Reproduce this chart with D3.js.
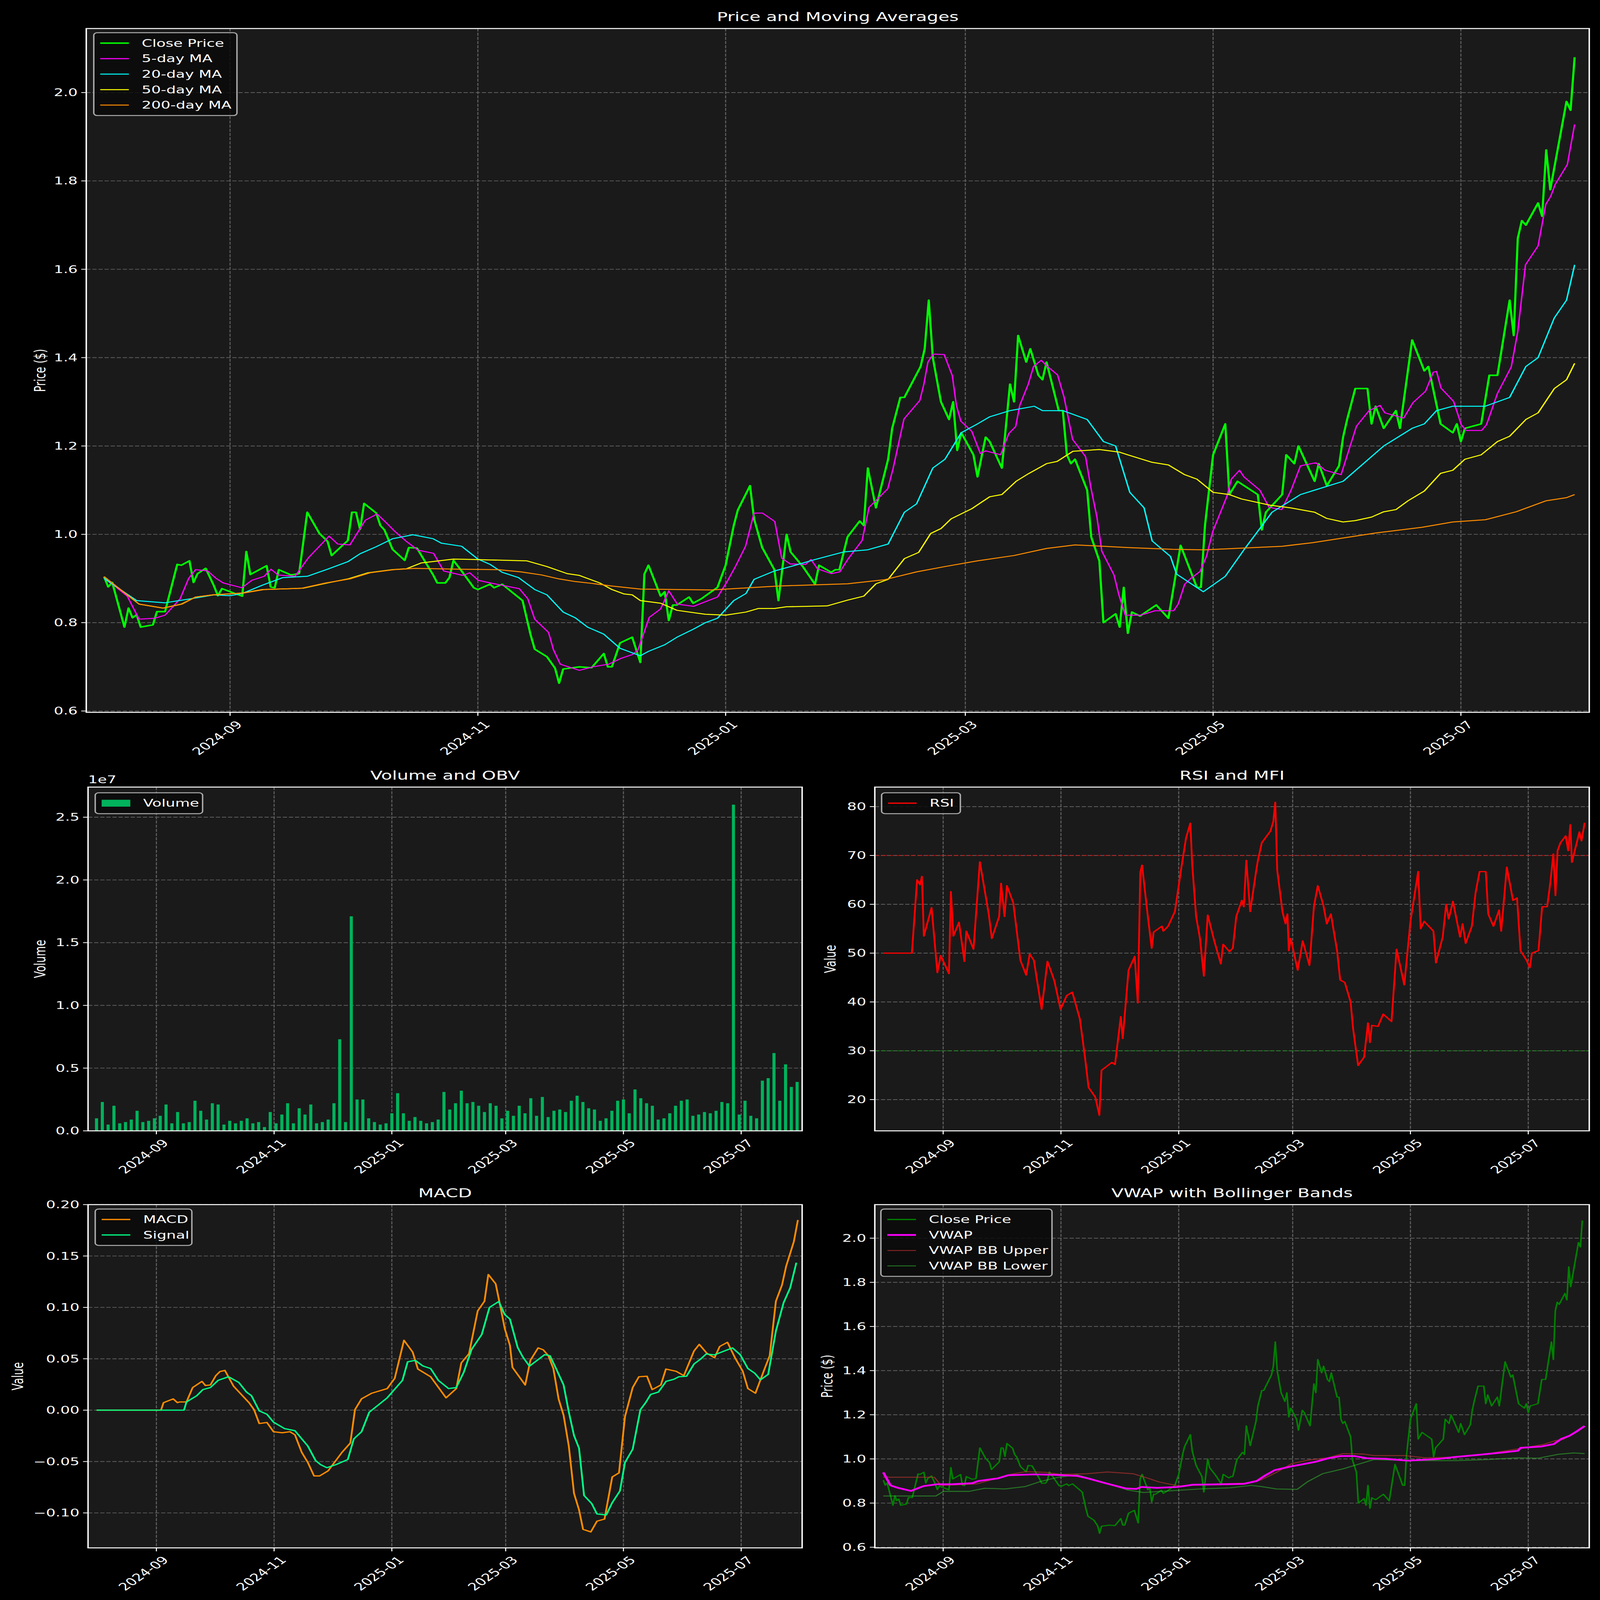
<!DOCTYPE html>
<html><head><meta charset="utf-8">
<script src="https://cdn.jsdelivr.net/npm/d3@7"></script>
<style>html,body{margin:0;padding:0;background:#000;overflow:hidden}</style>
</head><body>
<script>
const tickDates = ["2024-09-01","2024-11-01","2025-01-01","2025-03-01","2025-05-01","2025-07-01"];
const tickLabels = ["2024-09","2024-11","2025-01","2025-03","2025-05","2025-07"];
const closePrice = [[0,.904],[1,.881],[2,.891],[5,.79],[6,.833],[7,.811],[8,.818],[9,.79],[12,.795],[13,.825],[15,.825],[18,.932],[19,.93],[21,.94],[22,.891],[23,.911],[25,.923],[27,.884],[28,.861],[29,.877],[34,.86],[35,.961],[36,.909],[40,.929],[41,.881],[42,.879],[43,.92],[46,.908],[48,.911],[50,1.05],[53,1.002],[55,.984],[56,.952],[60,.986],[61,1.05],[62,1.05],[63,1.011],[64,1.07],[67,1.048],[68,1.02],[69,1.01],[71,.966],[74,.941],[75,.97],[77,.969],[81,.908],[82,.89],[84,.89],[85,.902],[86,.941],[88,.917],[91,.879],[92,.875],[95,.887],[96,.879],[98,.887],[103,.85],[105,.772],[106,.74],[109,.723],[111,.697],[112,.663],[113,.695],[117,.70],[120,.698],[123,.73],[124,.70],[125,.70],[127,.754],[130,.767],[132,.71],[133,.91],[134,.93],[137,.86],[138,.87],[139,.805],[140,.84],[141,.84],[144,.858],[145,.844],[147,.854],[151,.88],[153,.93],[155,1.02],[156,1.055],[159,1.11],[160,1.035],[162,.97],[165,.92],[166,.85],[168,1.0],[169,.96],[172,.927],[175,.887],[176,.93],[179,.914],[180,.92],[181,.92],[183,.994],[186,1.03],[187,1.02],[188,1.15],[190,1.06],[193,1.17],[194,1.24],[196,1.31],[197,1.31],[201,1.38],[202,1.42],[203,1.53],[204,1.40],[206,1.30],[208,1.26],[209,1.30],[210,1.19],[211,1.23],[214,1.18],[215,1.13],[217,1.22],[218,1.21],[221,1.15],[223,1.34],[224,1.30],[225,1.45],[227,1.39],[228,1.42],[230,1.36],[231,1.35],[232,1.39],[235,1.28],[236,1.28],[237,1.18],[238,1.16],[239,1.17],[242,1.10],[243,.994],[245,.94],[246,.80],[249,.82],[250,.79],[251,.88],[252,.776],[253,.824],[255,.815],[259,.84],[262,.81],[265,.975],[269,.88],[270,.88],[271,1.02],[273,1.18],[276,1.25],[277,1.09],[279,1.12],[284,1.09],[285,1.01],[286,1.05],[290,1.09],[291,1.18],[293,1.16],[294,1.20],[298,1.12],[299,1.16],[301,1.11],[304,1.155],[305,1.22],[306,1.26],[308,1.33],[311,1.33],[312,1.25],[313,1.29],[315,1.24],[318,1.28],[319,1.24],[322,1.44],[325,1.37],[326,1.38],[329,1.25],[332,1.23],[333,1.25],[334,1.21],[335,1.24],[339,1.25],[341,1.36],[343,1.36],[346,1.53],[347,1.45],[348,1.67],[349,1.71],[350,1.70],[353,1.75],[354,1.72],[355,1.87],[356,1.78],[360,1.98],[361,1.96],[362,2.08]];
const ma5 = [[0,.90],[3,.88],[5.7,.86],[8.6,.808],[12.4,.81],[15,.817],[18.7,.854],[20.8,.90],[22.5,.92],[25.5,.917],[27.6,.90],[29.3,.89],[33.9,.879],[36.4,.896],[39.4,.905],[41.1,.921],[42.8,.908],[47,.905],[50.3,.947],[55.4,.996],[57.5,.978],[60.5,.976],[64.3,1.032],[67.2,1.046],[69.7,1.024],[71.4,1.008],[74.4,.984],[77.3,.964],[81.1,.957],[83.6,.917],[88.3,.907],[90,.913],[92.1,.896],[95,.89],[102.2,.877],[104.3,.854],[106,.808],[109.4,.778],[110.6,.739],[112.3,.706],[117,.692],[120.3,.70],[124.2,.706],[127.2,.719],[130.1,.728],[131.4,.738],[134.2,.812],[137,.831],[139,.872],[141.1,.842],[145.1,.837],[151,.858],[153.3,.892],[155.4,.927],[157.9,.973],[160,1.048],[162.1,1.048],[165.1,1.029],[166.8,.946],[168.9,.933],[172.7,.932],[174,.943],[175.6,.922],[179,.911],[181.1,.915],[183.2,.945],[186.6,.986],[188.3,1.061],[192.9,1.103],[194.2,1.148],[196.9,1.261],[200.8,1.303],[201.8,1.34],[202.8,1.39],[204.1,1.408],[206.8,1.407],[208.8,1.359],[209.8,1.292],[210.9,1.256],[213.6,1.233],[215.7,1.183],[217,1.189],[220.7,1.18],[222.7,1.228],[224.4,1.244],[225.4,1.292],[227.5,1.34],[228.8,1.38],[230.7,1.394],[232.1,1.381],[234.7,1.361],[236.3,1.311],[238.4,1.215],[241.6,1.176],[242.9,1.106],[244.4,1.039],[245.6,.962],[248.6,.908],[249.8,.863],[251.4,.817],[255.2,.817],[258.7,.827],[263.3,.827],[264.4,.842],[266,.887],[267.5,.9],[269.8,.916],[271.4,.951],[272.9,1.006],[276.4,1.086],[277.5,1.125],[279.5,1.145],[280.6,1.13],[284.5,1.10],[286.8,1.061],[289.9,1.056],[292.2,1.10],[294.5,1.155],[298.3,1.162],[300.6,1.145],[304.5,1.135],[308.3,1.245],[311.4,1.28],[314.1,1.292],[315.3,1.275],[319.9,1.263],[322.2,1.298],[325.3,1.324],[327.2,1.367],[328,1.369],[329.1,1.331],[332.2,1.301],[334.1,1.248],[335.3,1.235],[339.1,1.235],[340.3,1.248],[343,1.319],[346.4,1.379],[348,1.459],[349.9,1.61],[353,1.653],[354.9,1.747],[356.1,1.765],[357.2,1.792],[360.2,1.837],[362,1.928]];
const ma20 = [[0,.90],[8,.85],[15,.845],[22,.855],[27,.863],[31,.861],[34,.866],[39,.885],[44,.902],[50,.905],[55,.921],[60,.938],[63,.956],[67,.972],[71,.99],[76,.999],[81,.99],[83,.98],[88,.973],[92,.944],[95,.932],[98,.914],[102,.902],[106,.875],[109,.863],[113,.824],[116,.811],[119,.79],[123,.774],[127,.742],[132,.725],[134,.735],[138,.75],[141,.767],[145,.785],[148,.80],[151,.81],[155,.85],[158,.866],[160,.898],[165,.917],[169,.927],[175,.943],[182,.96],[188,.965],[193,.978],[197,1.05],[200,1.069],[204,1.15],[207,1.17],[211,1.23],[215,1.25],[218,1.266],[223,1.28],[229,1.29],[231,1.28],[236,1.28],[242,1.26],[246,1.21],[249,1.20],[252.5,1.095],[256,1.06],[258,.985],[262.5,.95],[264,.91],[270.6,.87],[276,.905],[280.6,.965],[287.5,1.05],[294.5,1.09],[298,1.10],[305,1.12],[315,1.20],[322,1.24],[325,1.25],[328,1.28],[332,1.29],[340,1.29],[346,1.31],[350,1.38],[353,1.40],[357,1.49],[360,1.53],[362,1.61]];
const ma50 = [[0,.904],[4,.875],[8.6,.842],[14.5,.833],[19,.842],[22.5,.858],[27,.863],[34,.867],[39,.875],[49,.878],[55,.89],[60,.899],[65,.913],[71,.92],[74.4,.922],[78,.935],[86,.944],[91,.943],[95,.942],[104,.94],[109,.927],[114,.911],[117,.907],[122,.89],[125,.875],[128,.865],[130,.863],[132,.85],[137,.844],[141,.828],[148,.819],[153,.817],[158,.824],[161,.832],[165,.832],[168,.836],[178,.838],[183,.851],[187,.86],[190,.888],[193,.898],[197,.945],[200.5,.959],[203.5,1.002],[206,1.013],[208.5,1.035],[213.6,1.058],[218,1.085],[221,1.09],[224.5,1.12],[227.5,1.137],[232,1.16],[234.6,1.165],[238.5,1.188],[245,1.192],[250,1.186],[252,1.18],[258,1.163],[262,1.157],[266,1.135],[269,1.125],[273,1.095],[277,1.09],[280,1.08],[287,1.066],[292,1.06],[298,1.05],[301,1.036],[305,1.028],[308,1.031],[312,1.039],[315,1.051],[318,1.056],[321,1.076],[325,1.098],[329,1.138],[332,1.145],[335,1.17],[339,1.18],[343,1.21],[346,1.222],[350,1.26],[353,1.275],[357,1.33],[360,1.35],[362,1.387]];
const ma200 = [[0,.904],[4,.875],[8.6,.842],[14.5,.833],[19.2,.842],[22.5,.858],[26.7,.863],[34.3,.867],[39.4,.875],[48.7,.878],[54.6,.89],[60.5,.899],[65.5,.913],[71.4,.92],[76.5,.923],[88,.921],[97,.92],[102.6,.915],[107.7,.908],[112,.899],[116,.893],[120,.889],[125,.883],[132,.876],[149.5,.874],[166,.883],[183,.888],[192,.897],[200,.915],[207,.927],[215,.94],[224,.952],[232,.968],[239,.976],[246,.973],[252,.97],[263,.966],[271,.965],[290,.973],[297.5,.981],[313,1.003],[324.5,1.016],[332,1.028],[340,1.033],[347.6,1.051],[355,1.076],[360,1.083],[362,1.09]];
const volumeM = [1.0,2.3,0.5,2.0,0.6,0.7,0.9,1.6,0.7,0.8, 1.0,1.2,2.1,0.6,1.5,0.6,0.7,2.4,1.6,0.9, 2.2,2.1,0.5,0.8,0.6,0.8,1.0,0.6,0.7,0.3, 1.5,0.6,1.3,2.2,0.6,1.8,1.3,2.1,0.6,0.7, 0.9,2.2,7.3,0.7,17.1,2.5,2.5,1.0,0.7,0.5, 0.6,1.4,3.0,1.4,0.8,1.1,0.8,0.6,0.7,0.9, 3.1,1.7,2.2,3.2,2.2,2.3,2.0,1.5,2.2,2.0, 1.0,1.6,1.2,2.0,1.4,2.6,1.2,2.7,1.1,1.6, 1.7,1.5,2.4,2.8,2.3,1.8,1.7,0.8,1.0,1.6, 2.4,2.5,1.4,3.3,2.6,2.2,2.0,0.9,1.0,1.4, 2.0,2.4,2.5,1.2,1.3,1.5,1.4,1.6,2.3,2.2, 26.0,1.3,2.4,1.2,1.0,4.0,4.2,6.2,2.4,5.3,3.5,3.9];
const rsi = [[0,50],[14.8,50],[17.5,65],[19,64],[20,65.7],[21,53.5],[25,59.3],[28,46],[29.7,49.5],[34,45.8],[35,62.6],[36.3,53.5],[39.2,56.3],[42,48.3],[43,54.5],[46.7,50.8],[50,68.7],[54.6,58],[56.2,53],[60,57.5],[61,64.3],[62.8,57.5],[64,63.8],[67.3,60.3],[71,48.5],[74,45.5],[75.8,49.8],[78,48.5],[82,38.5],[85,48.3],[88.6,44.3],[91.8,38.5],[95,41.3],[97.9,42],[101.8,36.5],[104.5,28.5],[106.3,22.5],[109.8,20.5],[111.9,16.8],[113,26],[118.3,27.6],[120,27.2],[123,37],[124,32.5],[127,46.5],[130.2,49.3],[131.8,39.8],[133.1,66.6],[134,68],[137,57.5],[139,51],[140,54.3],[144.3,55.5],[145,54.5],[147.5,55.5],[151,58.5],[154.4,67.6],[156.8,73.6],[159,76.6],[160,68],[162,57.5],[164,53],[166,45.3],[168,57.8],[171.4,52.5],[174.8,47.8],[176,51.8],[179.3,50.3],[181,51],[182.8,57.5],[185.7,60.8],[186.7,59.5],[188,69],[190,58.5],[193,66.6],[194,69],[196,72.6],[200.5,75],[202,77],[203,80.9],[204,67],[206.7,58.5],[208.3,56],[209.3,58],[210,50.5],[211,53],[214.6,46.5],[217.2,52.5],[220.7,47.5],[223,59.5],[225,63.8],[227.9,59.8],[229.7,56],[231.8,58],[235,50.5],[236.6,44.5],[239,44],[242,40],[243.3,34.5],[245.9,27],[249,28.7],[251,35.7],[252,31.7],[253,35.2],[256.2,35],[258.9,37.5],[263.2,36],[265.8,50.8],[269.8,43.5],[273,56.5],[277,66.7],[278.3,55],[280.1,56.5],[284.9,54.5],[286.2,48],[289.7,53.3],[291.5,60],[292.8,57],[295,60.6],[298.7,53.3],[300,56],[301.6,52],[304.8,55.5],[306.7,62.3],[308.8,66.7],[312,66.7],[313.3,58],[316,55.5],[318.9,58.8],[320,54.5],[322.9,67.6],[326.1,60.8],[328.2,61.3],[330,50.5],[333.2,48.5],[334.8,47],[335.9,50],[339.3,50.5],[341.2,59.5],[343.8,59.5],[345.4,64.3],[347,70.3],[348.1,61.8],[349.2,71],[350.7,72.6],[353.4,74],[354.7,71],[355.8,76.3],[356.6,68.6],[360.5,74.8],[361.6,73],[363.2,76.7]];
const macd = [[0,0],[33.4,0],[34.7,.0073],[39.7,.011],[41.9,.0073],[43,.008],[46.6,.008],[49.8,.022],[54.6,.028],[56.4,.024],[59,.0245],[61.8,.0336],[63.9,.0375],[66.5,.0387],[71,.0233],[79,.0073],[81.6,.0005],[84.3,-.013],[88.3,-.012],[91.7,-.021],[96.2,-.022],[100.2,-.021],[102.8,-.024],[106.3,-.041],[109.5,-.051],[112.7,-.064],[115.6,-.064],[120,-.059],[127.2,-.041],[131.5,-.032],[133.9,.0005],[137.3,.011],[142.6,.0165],[150.6,.021],[154.5,.031],[159.3,.068],[163.8,.0565],[166.5,.040],[173.1,.0325],[181.1,.012],[186.4,.021],[189,.046],[193,.055],[197.5,.0966],[201,.106],[203,.132],[206.8,.123],[209.7,.0966],[211.5,.0794],[214.2,.063],[215.5,.0416],[222.1,.0245],[224.8,.0485],[228.8,.0606],[231.4,.0588],[234.1,.053],[236.7,.0405],[239.4,.011],[242,-.005],[244.7,-.035],[247.4,-.081],[250,-.097],[252.1,-.116],[256.1,-.1185],[259.3,-.108],[263.2,-.106],[267.2,-.065],[270.7,-.061],[273.8,-.0064],[277.8,.022],[281,.0325],[285.2,.033],[287.9,.02],[292.4,.0245],[295,.040],[300.3,.0378],[304.3,.0336],[309.6,.0577],[312.3,.064],[316.2,.0554],[320.2,.051],[322.9,.062],[326.9,.066],[330.8,.051],[334.8,.038],[337.5,.021],[341.4,.0165],[346.2,.0405],[348.8,.053],[352,.106],[355.2,.122],[357.3,.14],[361.3,.164],[363.4,.185]];
const signal = [[0,0],[45.3,0],[46.6,.008],[51.9,.014],[55.1,.020],[59,.022],[63,.029],[68.4,.0325],[73.7,.027],[77.7,.0176],[80.3,.014],[84.3,-.0007],[88.3,-.004],[91.7,-.0117],[97.5,-.018],[102.8,-.02],[106.8,-.029],[109.5,-.035],[113.5,-.049],[116.1,-.053],[119.3,-.056],[124.1,-.053],[130.2,-.048],[133.3,-.028],[137.3,-.021],[141.3,-.002],[145.3,.004],[150.6,.012],[153.2,.0176],[158.5,.029],[161.2,.047],[165.1,.0485],[169.1,.043],[173.1,.0405],[177.1,.029],[182.4,.021],[186.4,.022],[190.3,.037],[194.3,.059],[199.6,.0737],[203.6,.100],[208.4,.1057],[211.5,.093],[214.2,.0886],[218.2,.061],[220.8,.052],[224.3,.0428],[232.2,.054],[234.9,.053],[238.1,.0405],[242,.0245],[244.7,-.0018],[247.4,-.0247],[250,-.037],[252.6,-.083],[256.6,-.091],[259.3,-.101],[264.1,-.102],[267.2,-.09],[271.2,-.0785],[273.8,-.051],[277.8,-.038],[281.8,.0005],[284.5,.0073],[287.1,.0153],[291.1,.0176],[295.1,.028],[299.1,.030],[301.7,.0325],[305.7,.033],[309.6,.045],[313,.0497],[315.9,.0547],[320.2,.0538],[325.5,.0577],[329.5,.0606],[333.5,.054],[337.5,.0405],[341,.036],[344,.0295],[348,.0348],[352,.077],[356,.1046],[359.4,.119],[362.6,.1435]];
const vwap = [[0,.939],[3.7,.88],[7.6,.869],[14.3,.855],[20.9,.877],[27.6,.885],[35.5,.885],[46.1,.89],[49.3,.90],[59.4,.912],[64.7,.926],[78,.93],[88.6,.928],[100.5,.923],[105.8,.912],[115.1,.89],[125.7,.866],[131,.864],[133.7,.873],[141.6,.869],[152.3,.873],[160.2,.883],[176.1,.885],[186.7,.887],[193.4,.90],[197.4,.923],[202.7,.949],[210.6,.965],[217.3,.976],[223.9,.987],[230.5,1.003],[237.2,1.013],[243.8,1.013],[250.5,1.003],[261,1.0],[271.6,.992],[287.5,1.0],[295.5,1.008],[308.8,1.019],[320.7,1.029],[328.7,1.037],[330,1.05],[340.6,1.056],[347.2,1.067],[351.2,1.091],[355.2,1.104],[359.2,1.125],[363.2,1.149]];
const bbUpper = [[0,.917],[26.4,.917],[29.9,.88],[48.5,.887],[57.7,.909],[65.7,.93],[73.6,.942],[84.2,.939],[92.2,.93],[105.5,.933],[116.1,.941],[129.3,.933],[137.3,.912],[142.6,.896],[153.2,.877],[166.5,.885],[187.7,.89],[195.7,.905],[203.6,.939],[211.6,.979],[219.6,.994],[230.2,1.005],[238.1,1.024],[248.8,1.022],[254,1.015],[270,1.015],[280.6,1.005],[296.5,1.008],[309.8,1.019],[328.3,1.045],[341.6,1.065],[348.2,1.083],[352,1.088],[355.2,1.104],[359.2,1.125],[363.2,1.149]];
const bbLower = [[0,.832],[27.2,.832],[31.2,.853],[44.5,.853],[52.5,.867],[63,.864],[73.6,.875],[81.6,.898],[89.6,.915],[100.2,.928],[108.1,.909],[126.7,.859],[134.7,.848],[147.9,.855],[163.9,.864],[179.8,.869],[190.4,.88],[195.7,.875],[203.6,.864],[214.3,.862],[219.6,.896],[227.5,.933],[238.1,.955],[246.1,.976],[254,.997],[264.7,.994],[275.3,.992],[296.5,.992],[312.4,.997],[328.3,1.005],[339,1.003],[349.6,1.021],[357.5,1.027],[363.2,1.024]];

const W=4470,H=6507, FONT="DejaVu Sans";
const svg=d3.select("body").append("svg").attr("viewBox",`0 0 ${W} ${H}`).attr("preserveAspectRatio","none")
  .style("width","100vw").style("height","100vh").style("display","block");
svg.append("rect").attr("width",W).attr("height",H).attr("fill","#000");
const base=new Date("2024-08-01T00:00:00Z");
const tickDays=tickDates.map(s=>(new Date(s+"T00:00:00Z")-base)/864e5);
let clipId=0;

function panel(o){
  const x=d3.scaleLinear().domain([-4.4,365.6]).range([o.x0,o.x1]);
  const y=d3.scaleLinear().domain(o.ydom).range([o.y1,o.y0]);
  const g=svg.append("g");
  g.append("rect").attr("x",o.x0).attr("y",o.y0).attr("width",o.x1-o.x0).attr("height",o.y1-o.y0).attr("fill","#1a1a1a");
  const grid=g.append("g").attr("stroke","#5e5e5e").attr("stroke-width",3).attr("stroke-dasharray","12,5");
  tickDays.forEach(d=>grid.append("line").attr("x1",x(d)).attr("x2",x(d)).attr("y1",o.y0).attr("y2",o.y1));
  o.yticks.forEach(v=>grid.append("line").attr("x1",o.x0).attr("x2",o.x1).attr("y1",y(v)).attr("y2",y(v)));
  const id="c"+(clipId++);
  svg.append("clipPath").attr("id",id).append("rect").attr("x",o.x0).attr("y",o.y0).attr("width",o.x1-o.x0).attr("height",o.y1-o.y0);
  const plot=g.append("g").attr("clip-path",`url(#${id})`);
  const ax=svg.append("g");
  tickDays.forEach((d,i)=>{
    ax.append("line").attr("x1",x(d)).attr("x2",x(d)).attr("y1",o.y1).attr("y2",o.y1+14).attr("stroke","#fff").attr("stroke-width",3);
    ax.append("text").attr("transform",`translate(${x(d)+14},${o.y1+30}) rotate(-45)`).attr("text-anchor","end").attr("dominant-baseline","hanging")
      .attr("font-family",FONT).attr("font-size",42).attr("fill","#fff").text(tickLabels[i]);
  });
  o.yticks.forEach(v=>{
    ax.append("line").attr("x1",o.x0-14).attr("x2",o.x0).attr("y1",y(v)).attr("y2",y(v)).attr("stroke","#fff").attr("stroke-width",3);
    ax.append("text").attr("x",o.x0-24).attr("y",y(v)).attr("text-anchor","end").attr("dominant-baseline","central")
      .attr("font-family",FONT).attr("font-size",42).attr("fill","#fff").text(o.yfmt(v));
  });
  ax.append("text").attr("x",(o.x0+o.x1)/2).attr("y",o.y0-30).attr("text-anchor","middle").attr("font-family",FONT).attr("font-size",50).attr("fill","#fff").text(o.title);
  ax.append("text").attr("transform",`translate(${o.ylx},${(o.y0+o.y1)/2}) rotate(-90)`).attr("text-anchor","middle").attr("dominant-baseline","central")
    .attr("font-family",FONT).attr("font-size",42).attr("fill","#fff").text(o.ylabel);
  return {x,y,plot,ax,o};
}
function spine(p){p.ax.append("rect").attr("x",p.o.x0).attr("y",p.o.y0).attr("width",p.o.x1-p.o.x0).attr("height",p.o.y1-p.o.y0).attr("fill","none").attr("stroke","#fff").attr("stroke-width",4);}
function line(p,data,color,w,opacity=1){
  p.plot.append("path").datum(data).attr("d",d3.line().x(d=>p.x(d[0])).y(d=>p.y(d[1]))).attr("fill","none")
   .attr("stroke",color).attr("stroke-width",w).attr("stroke-opacity",opacity).attr("stroke-linejoin","round");
}
function legend(p,lx,ly,items,bw){
  const rowH=63, bh=items.length*rowH+22;
  const g=p.ax.append("g");
  g.append("rect").attr("x",lx).attr("y",ly).attr("width",bw).attr("height",bh).attr("rx",10).attr("fill","#0a0a0a").attr("fill-opacity",0.85).attr("stroke","#aaa").attr("stroke-width",4);
  items.forEach((it,i)=>{
    const cy=ly+11+rowH*i+rowH/2;
    if(it.rect) g.append("rect").attr("x",lx+18).attr("y",cy-14).attr("width",80).attr("height",28).attr("fill",it.color);
    else g.append("line").attr("x1",lx+18).attr("x2",lx+98).attr("y1",cy).attr("y2",cy).attr("stroke",it.color).attr("stroke-width",it.w).attr("stroke-opacity",it.op||1);
    g.append("text").attr("x",lx+134).attr("y",cy).attr("dominant-baseline","central").attr("font-family",FONT).attr("font-size",42).attr("fill","#fff").text(it.label);
  });
}

const p1=panel({x0:241,x1:4440,y0:116,y1:2897,ydom:[0.597,2.145],yticks:[0.6,0.8,1.0,1.2,1.4,1.6,1.8,2.0],yfmt:d3.format(".1f"),title:"Price and Moving Averages",ylabel:"Price ($)",ylx:112});
line(p1,closePrice,"#00ff00",6);
line(p1,ma5,"#ff00ff",4);
line(p1,ma20,"#00ffff",4);
line(p1,ma50,"#ffff00",4);
line(p1,ma200,"#ff8c00",4);
spine(p1);
legend(p1,262,133,[{label:"Close Price",color:"#00ff00",w:6},{label:"5-day MA",color:"#ff00ff",w:4},{label:"20-day MA",color:"#00ffff",w:4},{label:"50-day MA",color:"#ffff00",w:4},{label:"200-day MA",color:"#ff8c00",w:4}],400);

const p2=panel({x0:246,x1:2241,y0:3201,y1:4599,ydom:[0,2.74e7],yticks:[0,0.5e7,1e7,1.5e7,2e7,2.5e7],yfmt:v=>d3.format(".1f")(v/1e7),title:"Volume and OBV",ylabel:"Volume",ylx:112});
const bw2=p2.x(1.6)-p2.x(0);
p2.plot.selectAll("rect.v").data(volumeM).enter().append("rect")
  .attr("x",(d,i)=>p2.x(i*3)-bw2/2).attr("width",bw2).attr("y",d=>p2.y(d*1e6)).attr("height",d=>p2.y(0)-p2.y(d*1e6)).attr("fill","#00b35c");
spine(p2);
p2.ax.append("text").attr("x",246).attr("y",3185).attr("font-family",FONT).attr("font-size",42).attr("fill","#fff").text("1e7");
legend(p2,266,3224,[{label:"Volume",color:"#00b35c",rect:true}],300);

const p3=panel({x0:2444,x1:4440,y0:3201,y1:4599,ydom:[13.6,84],yticks:[20,30,40,50,60,70,80],yfmt:d3.format("d"),title:"RSI and MFI",ylabel:"Value",ylx:2320});
p3.plot.append("line").attr("x1",2444).attr("x2",4440).attr("y1",p3.y(70)).attr("y2",p3.y(70)).attr("stroke","#ff0000").attr("stroke-opacity",0.5).attr("stroke-width",4).attr("stroke-dasharray","14,6");
p3.plot.append("line").attr("x1",2444).attr("x2",4440).attr("y1",p3.y(30)).attr("y2",p3.y(30)).attr("stroke","#00a000").attr("stroke-opacity",0.5).attr("stroke-width",4).attr("stroke-dasharray","14,6");
line(p3,rsi,"#ff0000",5);
spine(p3);
legend(p3,2463,3224,[{label:"RSI",color:"#ff0000",w:5}],220);

const p4=panel({x0:246,x1:2241,y0:4899,y1:6295,ydom:[-0.134,0.2],yticks:[-0.1,-0.05,0,0.05,0.1,0.15,0.2],yfmt:v=>d3.format(".2f")(v).replace("-","\u2212"),title:"MACD",ylabel:"Value",ylx:50});
line(p4,macd,"#ff8c00",5);
line(p4,signal,"#00ff88",5);
spine(p4);
legend(p4,266,4917,[{label:"MACD",color:"#ff8c00",w:5},{label:"Signal",color:"#00ff88",w:5}],270);

const p5=panel({x0:2444,x1:4440,y0:4899,y1:6295,ydom:[0.597,2.152],yticks:[0.6,0.8,1.0,1.2,1.4,1.6,1.8,2.0],yfmt:d3.format(".1f"),title:"VWAP with Bollinger Bands",ylabel:"Price ($)",ylx:2311});
const poly=bbUpper.concat(bbLower.slice().reverse());
p5.plot.append("path").datum(poly).attr("d",d3.line().x(d=>p5.x(d[0])).y(d=>p5.y(d[1]))+"Z").attr("fill","#808080").attr("fill-opacity",0.15);
line(p5,closePrice,"#008000",4.5);
line(p5,bbUpper,"#cc3333",4,0.6);
line(p5,bbLower,"#33cc33",4,0.5);
line(p5,vwap,"#ff00ff",7);
spine(p5);
legend(p5,2461,4917,[{label:"Close Price",color:"#008000",w:5},{label:"VWAP",color:"#ff00ff",w:7},{label:"VWAP BB Upper",color:"#cc3333",w:4,op:0.6},{label:"VWAP BB Lower",color:"#33cc33",w:4,op:0.5}],478);
</script>
</body></html>
